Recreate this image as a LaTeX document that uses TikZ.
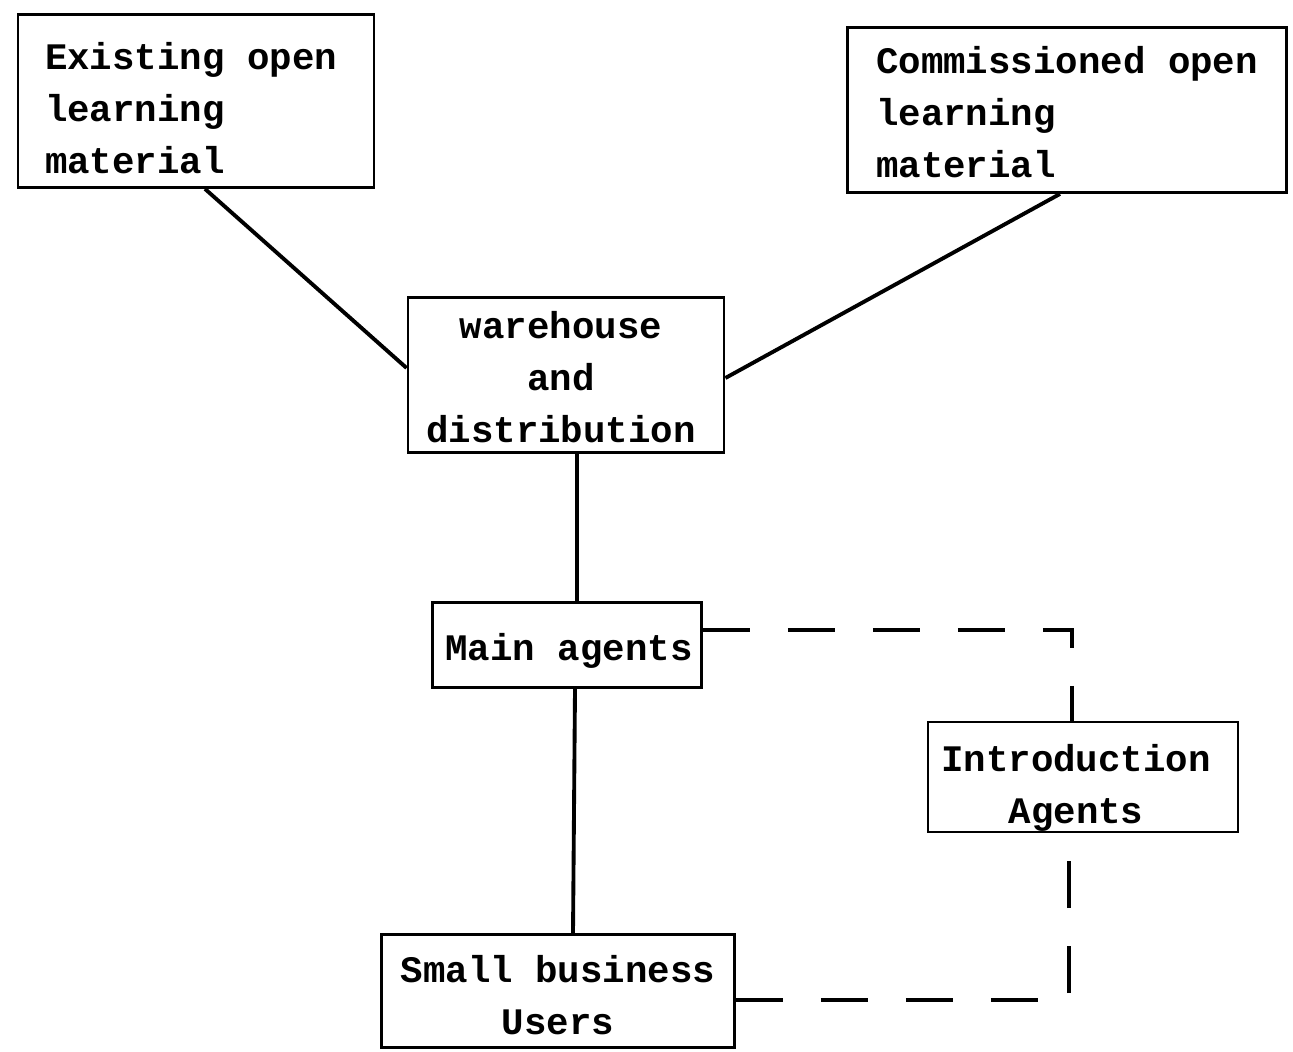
\documentclass[tikz,border=0pt]{standalone}
\usepackage{fontspec}
\setmonofont{Liberation Mono}
\tikzset{
  box/.style={draw, line width=1.6pt, inner sep=0pt},
  txt/.style={inner sep=0pt, font=\ttfamily\bfseries\fontsize{21.3}{29.6}\selectfont},
  link/.style={line width=2.2pt},
  dlink/.style={line width=2pt, dash pattern=on 0.95cm off 0.75cm},
}
\begin{document}
\begin{tikzpicture}[x=0.02cm, y=-0.02cm]
  \useasboundingbox[fill=white] (0,0) rectangle (1293,1051);

  % boxes: centre, width and height in pixel units
  \node[box, minimum width=356*0.02cm, minimum height=173*0.02cm] (ex) at (196,101) {};
  \node[box, minimum width=439*0.02cm, minimum height=165*0.02cm] (co) at (1067,110) {};
  \node[box, minimum width=316*0.02cm, minimum height=155*0.02cm] (wh) at (566,375) {};
  \node[box, minimum width=269*0.02cm, minimum height=85*0.02cm]  (ma) at (567,645) {};
  \node[box, minimum width=310*0.02cm, minimum height=110*0.02cm] (ia) at (1083,777) {};
  \node[box, minimum width=353*0.02cm, minimum height=113*0.02cm] (sb) at (558,991) {};

  % box texts
  \node[txt, align=left]   (exT) at ([xshift=-0.10cm, yshift=-0.14cm]ex.center) {Existing open\\learning\\material};
  \node[txt, align=left]   (coT) at ([yshift=-0.04cm]co.center) {Commissioned open\\learning\\material};
  \node[txt, align=center] (whT) at ([xshift=-0.10cm, yshift=-0.04cm]wh.center) {warehouse\\and\\distribution};
  \node[txt]               (maT) at ([xshift=0.04cm, yshift=-0.12cm]ma.center) {Main agents};
  \node[txt, align=center] (iaT) at ([xshift=-0.14cm, yshift=-0.21cm]ia.center) {Introduction\\Agents};
  \node[txt, align=center] (sbT) at ([yshift=-0.08cm]sb.center) {Small business\\Users};

  % solid connections
  \draw[link] ([xshift=0.18cm]ex.south) -- ([yshift=0.14cm]wh.west);
  \draw[link] ([xshift=-0.14cm]co.south) -- ([yshift=-0.06cm]wh.east);
  \draw[link] ([xshift=0.22cm]wh.south) -- ([xshift=0.2cm]ma.north);
  \draw[link] ([xshift=0.16cm]ma.south) -- ([xshift=0.3cm]sb.north);

  % dashed route through the introduction agents
  \draw[dlink] ([yshift=0.30cm]ma.east) -| ([xshift=-0.22cm]ia.north);
  \draw[dlink] ([yshift=-0.18cm]sb.east) -| ([xshift=-0.28cm]ia.south);
\end{tikzpicture}
\end{document}
